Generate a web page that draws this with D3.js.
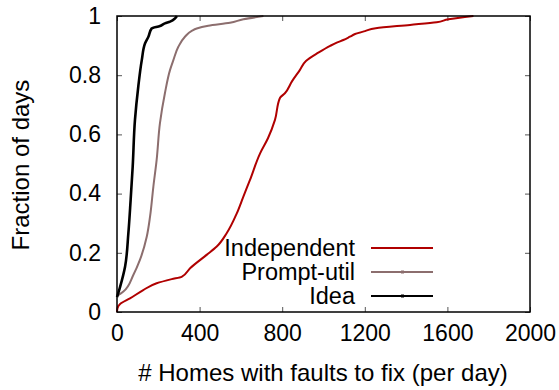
<!DOCTYPE html>
<html lang="en">
<head>
    <meta charset="UTF-8">
    <title>Homes with faults CDF</title>
    <style>
        body { margin: 0; background: #fff; }
        text { font-family: "Liberation Sans", Arial, sans-serif; fill: #000; }
        .tick text { font-size: 23px; }
        .axis-label { font-size: 24px; }
        .legend text { font-size: 23.5px; }
    </style>
</head>
<body>
<svg width="559" height="390"></svg>
<script src="https://d3js.org/d3.v7.min.js"></script>
<script>

    // Ticks
    const xTicks = [0, 400, 800, 1200, 1600, 2000];
    const yTicks = [0, 0.2, 0.4, 0.6, 0.8, 1];

    // Series names, colours (CDF points)
    const seriesNames = ['Independent', 'Prompt-util', 'Idea'];
    const seriesColors = ['#b00000', '#8c6e6e', '#000000'];

    const independentX = [0, 2, 15, 63, 127, 192, 265, 313, 354, 434, 483, 531, 580, 612, 644,
        693, 731, 765, 789, 813, 848, 886, 915, 975, 1032, 1064, 1096, 1128, 1153, 1201, 1253,
        1419, 1548, 1605, 1726];
    const independentY = [0, 0.012, 0.027, 0.046, 0.074, 0.097, 0.111, 0.119, 0.148, 0.193, 0.221,
        0.266, 0.333, 0.39, 0.446, 0.536, 0.587, 0.649, 0.723, 0.739, 0.78, 0.818, 0.848, 0.876,
        0.899, 0.91, 0.919, 0.93, 0.939, 0.949, 0.959, 0.97, 0.979, 0.989, 1];

    const promptX = [0, 31, 79, 111, 144, 160, 176, 192, 208, 232, 257, 273, 297, 329, 362, 386,
        442, 547, 612, 709];
    const promptY = [0.054, 0.069, 0.125, 0.176, 0.254, 0.322, 0.423, 0.514, 0.638, 0.739, 0.818,
        0.851, 0.896, 0.93, 0.95, 0.958, 0.967, 0.977, 0.989, 1];

    const ideaX = [0, 15, 39, 55, 66, 76, 87, 103, 120, 136, 152, 168, 208, 232, 257, 281, 290];
    const ideaY = [0.05, 0.085, 0.153, 0.266, 0.378, 0.491, 0.649, 0.761, 0.851, 0.908, 0.93,
        0.958, 0.966, 0.975, 0.981, 0.992, 1];

    const svg = d3.select('svg');

    const x = d3.scaleLinear().domain([0, 2000]).range([117, 530]);
    const y = d3.scaleLinear().domain([0, 1]).range([312, 16]);

    const fmt = d => d3.format('~g')(d);

    // Axes, ticks pointing inward
    svg.append('g')
        .attr('transform', 'translate(0,312)')
        .call(d3.axisBottom(x).tickValues(xTicks).tickSizeInner(-5).tickSizeOuter(0)
            .tickPadding(13).tickFormat(fmt));

    svg.append('g')
        .attr('transform', 'translate(117,0)')
        .call(d3.axisLeft(y).tickValues(yTicks).tickSizeInner(-5).tickSizeOuter(0)
            .tickPadding(16).tickFormat(fmt));

    svg.append('g')
        .attr('transform', 'translate(0,16)')
        .call(d3.axisTop(x).tickValues(xTicks).tickSizeInner(-5).tickSizeOuter(0)
            .tickFormat(''));

    svg.append('g')
        .attr('transform', 'translate(530,0)')
        .call(d3.axisRight(y).tickValues(yTicks).tickSizeInner(-5).tickSizeOuter(0)
            .tickFormat(''));

    svg.selectAll('.domain').remove();
    svg.selectAll('.tick line').attr('stroke', '#555');

    // Curves
    const line = d3.line()
        .curve(d3.curveMonotoneY)
        .x(d => x(d[0]))
        .y(d => y(d[1]));

    const series = [
        d3.zip(independentX, independentY),
        d3.zip(promptX, promptY),
        d3.zip(ideaX, ideaY)
    ];
    const widths = [2, 2, 2.6];

    series.forEach(function (pts, i) {
        svg.append('path')
            .datum(pts)
            .attr('d', line)
            .attr('fill', 'none')
            .attr('stroke', seriesColors[i])
            .attr('stroke-width', widths[i]);
    });

    // Frame
    svg.append('rect')
        .attr('x', 117).attr('y', 16)
        .attr('width', 413).attr('height', 296)
        .attr('fill', 'none')
        .attr('stroke', '#000')
        .attr('stroke-width', 1.5);

    // Legend
    const legend = svg.append('g').attr('class', 'legend');
    seriesNames.forEach(function (name, i) {
        const ly = 248 + i * 24;
        legend.append('text')
            .attr('x', 355).attr('y', ly)
            .attr('dy', '0.35em')
            .attr('text-anchor', 'end')
            .text(name);
        legend.append('line')
            .attr('x1', 371).attr('x2', 433)
            .attr('y1', ly).attr('y2', ly)
            .attr('stroke', seriesColors[i])
            .attr('stroke-width', 2);
        if (i > 0) {
            legend.append('rect')
                .attr('x', 401).attr('y', ly - 1.5)
                .attr('width', 3).attr('height', 3)
                .attr('fill', seriesColors[i]);
        }
    });

    // Axis labels
    svg.append('text')
        .attr('class', 'axis-label')
        .attr('x', 323).attr('y', 381)
        .attr('text-anchor', 'middle')
        .text('# Homes with faults to fix (per day)');

    svg.append('text')
        .attr('class', 'axis-label')
        .attr('transform', 'translate(29,165) rotate(-90)')
        .attr('text-anchor', 'middle')
        .text('Fraction of days');

</script>
</body>
</html>
